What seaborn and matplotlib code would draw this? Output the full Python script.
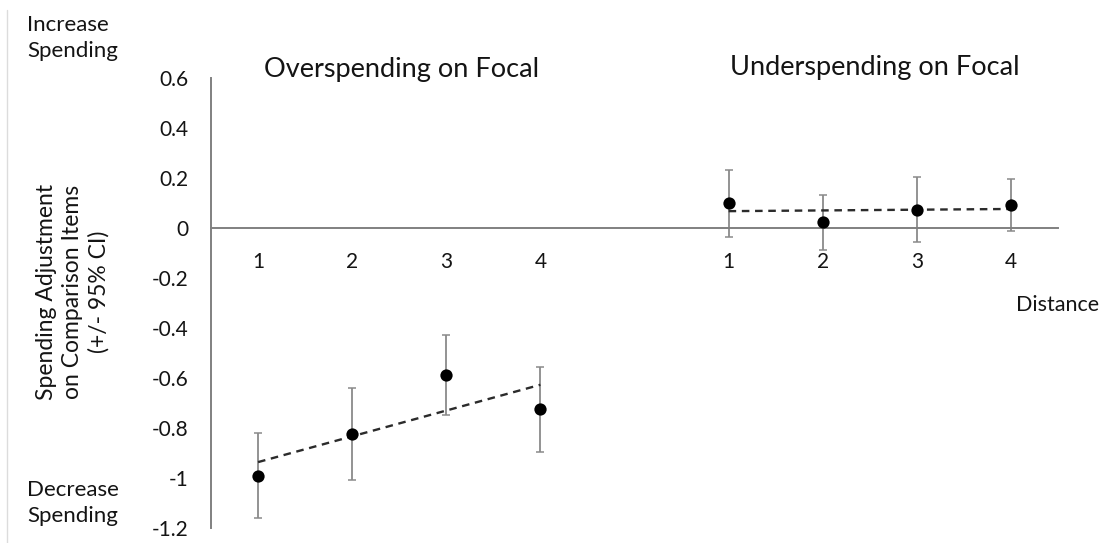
import matplotlib
matplotlib.use("Agg")
import matplotlib.pyplot as plt
from matplotlib.lines import Line2D
import numpy as np
import pandas as pd
import seaborn as sns

# Distance levels and mean spending adjustment (+/- 95% CI half-widths)
distance = [1, 2, 3, 4]
over_mean = [-0.99, -0.824, -0.588, -0.725]
over_ci = [0.17, 0.183, 0.16, 0.17]
under_mean = [0.099, 0.023, 0.073, 0.092]
under_ci = [0.133, 0.11, 0.13, 0.104]

y_ticks = [0.6, 0.4, 0.2, 0.0, -0.2, -0.4, -0.6, -0.8, -1.0, -1.2]
group_titles = ["Overspending on Focal", "Underspending on Focal"]

sns.set_theme(style="white")
FONT = ["Lato", "DejaVu Sans"]
plt.rcParams["font.family"] = FONT
TXT = "#141414"
AX = "#808080"

W, H = 1102, 543
fig = plt.figure(figsize=(W / 100, H / 100), dpi=100)
fig.patch.set_facecolor("white")

# plot area in pixel units
x0, x1 = 211, 1058
ytop, ybot = 78, 528
ax = fig.add_axes([x0 / W, (H - ybot) / H, (x1 - x0) / W, (ybot - ytop) / H])

# slots: four distances per group with one empty slot between the groups
over_df = pd.DataFrame({"slot": [d - 1 for d in distance], "mean": over_mean, "ci": over_ci})
under_df = pd.DataFrame({"slot": [d + 4 for d in distance], "mean": under_mean, "ci": under_ci})

for df in (over_df, under_df):
    ax.errorbar(df["slot"], df["mean"], yerr=df["ci"], fmt="none", ecolor="#8a8a8a",
                elinewidth=1.3, capsize=3.2, capthick=1.1, zorder=2)
    sns.regplot(data=df, x="slot", y="mean", scatter=False, ci=None, truncate=True, ax=ax,
                line_kws=dict(color="#2b2b2b", lw=1.7, ls=(0, (3.2, 2.4)), zorder=3))
    sns.scatterplot(data=df, x="slot", y="mean", ax=ax, color="black", s=78,
                    edgecolor="black", linewidth=0, zorder=4)

ax.set_xlim(-0.5, 8.5)
ax.set_ylim(-1.2, 0.6)
ax.set_xlabel("")
ax.set_ylabel("")

for s in ("top", "right"):
    ax.spines[s].set_visible(False)
ax.spines["bottom"].set_position(("data", 0))
for s in ("left", "bottom"):
    ax.spines[s].set_color(AX)
    ax.spines[s].set_linewidth(1.4)

# x axis: category labels centred in slots, tick marks at slot borders
ax.set_xticks(list(over_df["slot"]) + list(under_df["slot"]))
ax.set_xticklabels([str(d) for d in distance] * 2)
ax.set_xticks(np.arange(0.5, 9.0, 1.0), minor=True)
ax.tick_params(axis="x", which="major", length=0, pad=17, labelsize=15, labelcolor=TXT)
ax.tick_params(axis="x", which="minor", direction="inout", length=10, width=1.2, color=AX)

ax.set_yticks(y_ticks)
ax.set_yticklabels([("%g" % v) if abs(v) > 1e-9 else "0" for v in y_ticks])
ax.tick_params(axis="y", length=0, pad=16, labelsize=15, labelcolor=TXT)
ax.grid(False)

# group headings
fig.text(402 / W, 1 - 70 / H, group_titles[0], ha="center", va="center", fontsize=19.5, color=TXT)
fig.text(875 / W, 1 - 68 / H, group_titles[1], ha="center", va="center", fontsize=19.5, color=TXT)

# direction labels
fig.text(27 / W, 1 - 38 / H, "Increase\nSpending", ha="left", va="center", fontsize=16,
         color=TXT, linespacing=1.42)
fig.text(27 / W, 1 - 503 / H, "Decrease\nSpending", ha="left", va="center", fontsize=16,
         color=TXT, linespacing=1.42)

# y axis title
fig.text(73 / W, 1 - 292 / H, "Spending Adjustment\non Comparison Items\n(+/- 95% CI)",
         ha="center", va="center", rotation=90, fontsize=16.5, color=TXT, linespacing=1.3,
         multialignment="center")

# x axis title
fig.text(1099 / W, 1 - 305 / H, "Distance", ha="right", va="center", fontsize=15.5, color=TXT)

# thin frame line on the left edge
fig.add_artist(Line2D([7 / W, 7 / W], [0, 1 - 10 / H], color="#dcdcdc", lw=1.0))

fig.savefig("out.png", dpi=100, facecolor="white")
